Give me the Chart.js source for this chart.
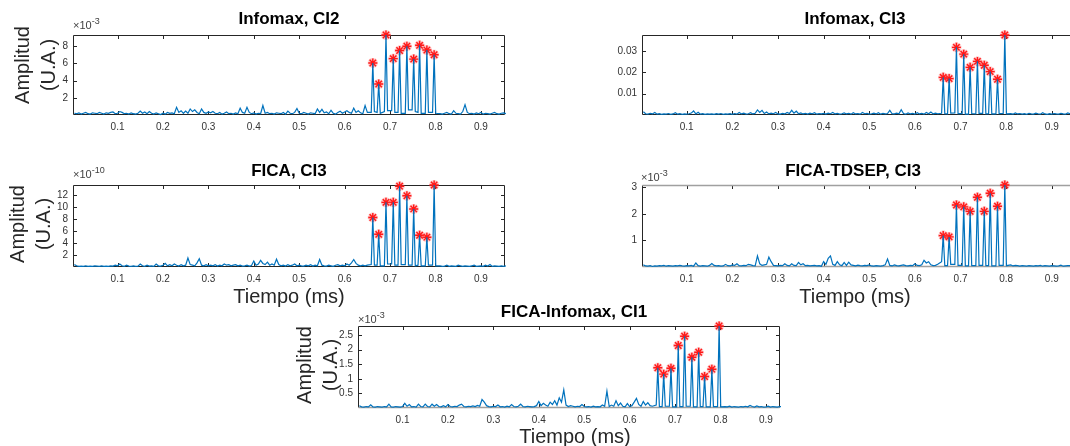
<!DOCTYPE html>
<html lang="es">
<head>
<meta charset="UTF-8" />
<title>Amplitud vs Tiempo</title>
<script src="https://cdn.jsdelivr.net/npm/chart.js@4"></script>
<style>
  html, body { margin: 0; padding: 0; background: #fff; }
  body { width: 1070px; height: 446px; position: relative; overflow: hidden; font-family: "Liberation Sans", Arial, sans-serif; }
  canvas { position: absolute; }
  .titulo { position: absolute; font-weight: bold; font-size: 17px; color: #000; line-height: 1; transform: translate(-50%, -50%); white-space: nowrap; }
  .ylab { position: absolute; font-size: 20px; line-height: 26px; color: #262626; text-align: center; transform: translate(-50%, -50%) rotate(-90deg); white-space: nowrap; }
  .xlab { position: absolute; font-size: 20px; line-height: 1; color: #262626; transform: translate(-50%, -50%); white-space: nowrap; }
  .expo { position: absolute; font-size: 11px; color: #404040; line-height: 1; transform: translateY(-50%); white-space: nowrap; }
  .expo sup { font-size: 9px; line-height: 0; }
</style>
</head>
<body>
  <canvas id="c1"></canvas>
  <canvas id="c2"></canvas>
  <canvas id="c3"></canvas>
  <canvas id="c4"></canvas>
  <canvas id="c5"></canvas>

  <div class="titulo" style="left:289px;top:18px">Infomax, CI2</div>
  <div class="titulo" style="left:855px;top:18px">Infomax, CI3</div>
  <div class="titulo" style="left:289px;top:170px">FICA, CI3</div>
  <div class="titulo" style="left:853px;top:170px">FICA-TDSEP, CI3</div>
  <div class="titulo" style="left:574px;top:311px">FICA-Infomax, CI1</div>

  <div class="expo" style="left:73px;top:25px">×10<sup>-3</sup></div>
  <div class="expo" style="left:73px;top:174px">×10<sup>-10</sup></div>
  <div class="expo" style="left:641px;top:177px">×10<sup>-3</sup></div>
  <div class="expo" style="left:358px;top:319px">×10<sup>-3</sup></div>

  <div class="ylab" style="left:35px;top:65px">Amplitud<br>(U.A.)</div>
  <div class="ylab" style="left:30px;top:224px">Amplitud<br>(U.A.)</div>
  <div class="ylab" style="left:317px;top:365px">Amplitud<br>(U.A.)</div>

  <div class="xlab" style="left:289px;top:296px">Tiempo (ms)</div>
  <div class="xlab" style="left:855px;top:296px">Tiempo (ms)</div>
  <div class="xlab" style="left:575px;top:436px">Tiempo (ms)</div>

<script>
// tiempos (ms)
const tRuido = [
  0.005,0.010,0.015,0.020,0.025,0.030,0.035,0.040,0.045,0.050,
  0.055,0.060,0.065,0.070,0.075,0.080,0.085,0.090,0.095,0.100,
  0.105,0.110,0.115,0.120,0.125,0.130,0.135,0.140,0.145,0.150,
  0.155,0.160,0.165,0.170,0.175,0.180,0.185,0.190,0.195,0.200,
  0.205,0.210,0.215,0.220,0.225,0.230,0.235,0.240,0.245,0.250,
  0.255,0.260,0.265,0.270,0.275,0.280,0.285,0.290,0.295,0.300,
  0.305,0.310,0.315,0.320,0.325,0.330,0.335,0.340,0.345,0.350,
  0.355,0.360,0.365,0.370,0.375,0.380,0.385,0.390,0.395,0.400,
  0.405,0.410,0.415,0.420,0.425,0.430,0.435,0.440,0.445,0.450,
  0.455,0.460,0.465,0.470,0.475,0.480,0.485,0.490,0.495,0.500,
  0.505,0.510,0.515,0.520,0.525,0.530,0.535,0.540,0.545,0.550,
  0.555,0.560,0.565,0.570,0.575,0.580,0.585,0.590,0.595,0.600,
  0.605,0.610,0.615,0.620,0.625,0.630,0.635,0.640,0.645,0.650
];
// pie de cada pico (antes, despues)
const tValles = [
  0.6585,0.6655, 0.6715,0.6785, 0.6875,0.6945, 0.7035,0.7105, 0.7175,0.7245,
  0.7335,0.7405, 0.7485,0.7555, 0.7615,0.7685, 0.7775,0.7845, 0.7935,0.8005
];
const tPicos  = [0.662,0.675,0.691,0.707,0.721,0.737,0.752,0.765,0.781,0.797];
const tCola = [
  0.810,0.815,0.820,0.825,0.830,0.835,0.840,0.845,0.850,0.855,
  0.860,0.865,0.870,0.875,0.880,0.885,0.890,0.895,0.900,0.905,
  0.910,0.915,0.920,0.925,0.930,0.935,0.940,0.945,0.950,0.955
];
const ticksX = [0.1,0.2,0.3,0.4,0.5,0.6,0.7,0.8,0.9];

// Infomax, CI2 (x10^-3)
const ruido1 = [
  0.2,0.15,0.25,0.1,0.2,0.3,0.15,0.1,0.25,0.2,
  0.15,0.3,0.2,0.1,0.25,0.2,0.3,0.35,0.15,0.2,
  0.4,0.3,0.15,0.2,0.1,0.25,0.15,0.1,0.2,0.45,
  0.2,0.35,0.15,0.4,0.2,0.1,0.25,0.15,0.05,0.2,
  0.1,0.3,0.2,0.25,0.15,0.9,0.3,0.5,0.2,0.45,
  0.2,0.7,0.4,0.6,0.3,0.15,0.7,0.3,0.2,0.35,
  0.25,0.4,0.2,0.15,0.3,0.1,0.2,0.35,0.15,0.2,
  0.1,0.25,0.15,0.8,0.3,0.2,0.9,0.3,0.15,0.25,
  0.1,0.2,0.15,1.1,0.2,0.3,0.15,0.2,0.1,0.25,
  0.2,0.15,0.3,0.1,0.45,0.2,0.15,0.3,0.75,0.2,
  0.15,0.3,0.2,0.1,0.25,0.2,0.15,0.7,0.3,0.65,
  0.25,0.35,0.15,0.55,0.2,0.1,0.3,0.45,0.2,0.35,
  0.5,0.3,0.2,0.8,0.3,0.5,0.25,0.15,1.1,0.3
];
const valles1 = [0.3,0.4, 0.3,0.2, 0.4,0.5, 0.5,0.3, 0.3,0.2, 0.2,0.6, 0.6,0.4, 0.3,0.2, 0.2,0.3, 0.3,0.2];
const picos1  = [6.05,3.6,9.3,6.55,7.5,8.0,6.5,8.1,7.55,7.0];
const cola1 = [
  0.15,0.1,0.2,0.3,0.15,0.1,0.5,0.2,0.15,0.1,
  0.4,1.2,0.3,0.15,0.2,0.1,0.25,0.15,0.3,0.1,
  0.2,0.15,0.1,0.2,0.3,0.15,0.1,0.2,0.25,0.15
];
const ticksY1 = [2,4,6,8];

// Infomax, CI3
const ruido2 = [
  0.0015,0.0006,0.0004,0.0008,0.0005,0.0012,0.0004,0.0006,0.0003,0.0005,
  0.0004,0.0007,0.0003,0.0005,0.0011,0.0004,0.0006,0.0003,0.0005,0.0004,
  0.0006,0.0009,0.0019,0.0005,0.0013,0.0004,0.0006,0.0003,0.0005,0.0004,
  0.0005,0.0003,0.0006,0.0004,0.0007,0.0003,0.0005,0.0004,0.0006,0.0003,
  0.0007,0.0004,0.0012,0.0005,0.0009,0.0004,0.0006,0.0011,0.0005,0.0008,
  0.0024,0.0012,0.0022,0.0007,0.0014,0.0005,0.0009,0.0006,0.0012,0.0005,
  0.0004,0.0008,0.0005,0.0012,0.0007,0.0022,0.0009,0.0018,0.0006,0.0010,
  0.0005,0.0008,0.0004,0.0009,0.0006,0.0011,0.0004,0.0007,0.0005,0.0008,
  0.0004,0.0009,0.0006,0.0012,0.0005,0.0008,0.0004,0.0006,0.0010,0.0005,
  0.0008,0.0004,0.0011,0.0005,0.0007,0.0004,0.0012,0.0006,0.0008,0.0004,
  0.0006,0.0009,0.0005,0.0011,0.0004,0.0008,0.0005,0.0007,0.0022,0.0006,
  0.0005,0.0009,0.0006,0.0025,0.0007,0.0004,0.0010,0.0005,0.0008,0.0004,
  0.0011,0.0005,0.0008,0.0004,0.0012,0.0006,0.0014,0.0005,0.0009,0.0006
];
const valles2 = [0.0008,0.0006, 0.0005,0.0009, 0.0010,0.0006, 0.0006,0.0004, 0.0004,0.0007,
                 0.0005,0.0008, 0.0008,0.0005, 0.0006,0.0005, 0.0005,0.0006, 0.0007,0.0005];
const picos2  = [0.0177,0.0171,0.0318,0.0286,0.0224,0.0252,0.0234,0.0204,0.0168,0.0376];
const cola2 = [
  0.0006,0.0004,0.0010,0.0005,0.0007,0.0004,0.0006,0.0003,0.0008,0.0005,
  0.0004,0.0009,0.0006,0.0004,0.0011,0.0005,0.0003,0.0006,0.0004,0.0007,
  0.0005,0.0004,0.0008,0.0005,0.0004,0.0010,0.0006,0.0004,0.0007,0.0005
];
const ticksY2 = [0.01,0.02,0.03];

// FICA, CI3 (x10^-10)
const ruido3 = [
  0.4,0.2,0.1,0.15,0.1,0.2,0.1,0.15,0.1,0.2,
  0.15,0.1,0.2,0.1,0.15,0.1,0.2,0.15,0.3,0.2,
  0.5,0.2,0.1,0.3,0.15,0.1,0.2,0.1,0.15,0.5,
  0.2,0.1,0.3,0.15,0.2,0.1,0.5,0.2,0.15,0.3,
  0.6,0.2,0.4,0.2,0.5,0.3,0.15,0.4,0.2,0.3,
  1.5,0.4,0.3,0.2,0.7,1.4,0.3,0.2,0.4,0.2,
  0.3,0.2,0.4,0.15,0.3,0.2,0.5,0.3,0.4,0.2,
  0.3,0.4,0.2,0.3,0.15,0.2,0.3,0.15,0.25,1.0,
  0.3,0.5,1.1,0.6,0.4,0.8,0.3,0.5,0.3,1.3,
  0.4,0.2,0.3,0.15,0.4,0.2,0.3,0.5,0.2,0.3,
  0.2,0.15,0.3,0.2,0.4,0.15,0.3,0.2,1.25,0.3,
  0.2,0.15,0.3,0.2,0.1,0.3,0.4,0.2,0.3,0.2,
  0.5,0.3,0.7,1.25,0.6,0.3,0.2,0.3,0.2,0.3
];
const valles3 = [0.4,0.3, 0.3,0.2, 0.2,0.5, 0.5,0.3, 0.3,0.4, 0.4,0.3, 0.3,0.2, 0.3,0.2, 0.2,0.3, 0.3,0.2];
const picos3  = [8.27,5.46,10.8,10.8,13.5,11.9,9.7,5.3,4.98,13.7];
const cola3 = [
  0.2,0.1,0.15,0.3,0.1,0.2,0.15,0.1,0.3,0.2,
  0.1,0.2,0.15,0.1,0.2,0.3,0.1,0.15,0.2,0.1,
  0.3,0.15,0.4,0.1,0.2,0.15,0.1,0.2,0.1,0.2
];
const ticksY3 = [2,4,6,8,10,12];

// FICA-TDSEP, CI3 (x10^-3)
const ruido4 = [
  0.08,0.04,0.03,0.05,0.02,0.04,0.03,0.05,0.04,0.06,
  0.03,0.05,0.04,0.03,0.05,0.04,0.06,0.04,0.03,0.05,
  0.04,0.06,0.03,0.15,0.05,0.03,0.05,0.04,0.03,0.06,
  0.13,0.06,0.04,0.05,0.03,0.04,0.1,0.05,0.04,0.08,
  0.06,0.12,0.05,0.04,0.06,0.05,0.1,0.08,0.05,0.04,
  0.42,0.12,0.06,0.08,0.1,0.37,0.2,0.06,0.05,0.04,
  0.06,0.05,0.12,0.06,0.04,0.12,0.06,0.05,0.17,0.08,
  0.12,0.05,0.06,0.04,0.05,0.06,0.04,0.05,0.03,0.2,
  0.1,0.33,0.42,0.1,0.06,0.2,0.08,0.05,0.17,0.06,
  0.18,0.08,0.06,0.04,0.07,0.05,0.04,0.06,0.05,0.08,
  0.04,0.03,0.05,0.04,0.03,0.05,0.08,0.3,0.06,0.04,
  0.08,0.05,0.04,0.06,0.08,0.05,0.04,0.06,0.05,0.12,
  0.06,0.05,0.08,0.25,0.15,0.2,0.08,0.05,0.06,0.1
];
const valles4 = [0.2,0.05, 0.05,0.1, 0.1,0.06, 0.06,0.04, 0.04,0.05, 0.05,0.06, 0.06,0.05, 0.05,0.04, 0.04,0.06, 0.06,0.05];
const picos4  = [1.18,1.13,2.33,2.26,2.09,2.62,2.09,2.77,2.28,3.08];
const cola4 = [
  0.08,0.04,0.06,0.05,0.03,0.05,0.04,0.03,0.05,0.04,
  0.03,0.05,0.04,0.06,0.03,0.05,0.04,0.03,0.05,0.04,
  0.03,0.04,0.07,0.03,0.04,0.05,0.05,0.03,0.04,0.05
];
const ticksY4 = [1,2,3];

// FICA-Infomax, CI1 (x10^-3)
const ruido5 = [
  0.08,0.04,0.03,0.05,0.04,0.11,0.04,0.03,0.05,0.04,
  0.03,0.05,0.04,0.13,0.04,0.03,0.05,0.04,0.03,0.05,
  0.16,0.06,0.12,0.04,0.05,0.03,0.13,0.05,0.04,0.13,
  0.05,0.04,0.13,0.06,0.12,0.05,0.04,0.08,0.04,0.12,
  0.05,0.04,0.06,0.05,0.1,0.13,0.05,0.04,0.06,0.05,
  0.07,0.05,0.09,0.06,0.29,0.2,0.08,0.05,0.04,0.06,
  0.05,0.1,0.04,0.05,0.03,0.06,0.04,0.12,0.05,0.04,
  0.06,0.13,0.05,0.04,0.06,0.05,0.04,0.05,0.08,0.22,
  0.08,0.16,0.1,0.06,0.2,0.12,0.25,0.1,0.35,0.2,
  0.62,0.1,0.05,0.08,0.06,0.04,0.06,0.05,0.12,0.05,
  0.04,0.05,0.03,0.06,0.04,0.05,0.04,0.1,0.06,0.58,
  0.05,0.1,0.06,0.25,0.08,0.17,0.06,0.04,0.15,0.05,
  0.08,0.2,0.33,0.12,0.06,0.22,0.1,0.18,0.08,0.06
];
const valles5 = [0.1,0.05, 0.05,0.06, 0.06,0.04, 0.04,0.05, 0.05,0.06, 0.06,0.04, 0.04,0.05, 0.05,0.04, 0.04,0.05, 0.05,0.04];
const picos5  = [1.38,1.16,1.36,2.14,2.46,1.74,1.91,1.08,1.33,2.81];
const cola5 = [
  0.05,0.04,0.06,0.03,0.05,0.04,0.03,0.05,0.04,0.06,
  0.04,0.09,0.05,0.03,0.07,0.04,0.05,0.03,0.04,0.06,
  0.03,0.05,0.04,0.03,0.05,0.04,0.03,0.05,0.04,0.03
];
const ticksY5 = [0.5,1,1.5,2,2.5];

function serie(ruido, valles, picos, cola) {
  const pts = tRuido.map((t, i) => ({ x: t, y: ruido[i] }));
  tPicos.forEach((t, i) => {
    pts.push({ x: tValles[2 * i], y: valles[2 * i] });
    pts.push({ x: t, y: picos[i] });
    pts.push({ x: tValles[2 * i + 1], y: valles[2 * i + 1] });
  });
  tCola.forEach((t, i) => pts.push({ x: t, y: cola[i] }));
  return pts;
}
function marcas(picos) {
  return tPicos.map((t, i) => ({ x: t, y: picos[i] }));
}

// caja con marcas hacia dentro (estilo matlab)
const cajaPlugin = {
  id: 'caja',
  beforeDatasetsDraw(chart, args, opts) {
    const { ctx, chartArea: a, scales: { x, y } } = chart;
    const L = 4;
    ctx.save();
    ctx.strokeStyle = '#262626';
    ctx.lineWidth = 1;
    ctx.beginPath();
    x.ticks.forEach(t => {
      const px = Math.round(x.getPixelForValue(t.value)) + 0.5;
      ctx.moveTo(px, a.bottom); ctx.lineTo(px, a.bottom - L);
      ctx.moveTo(px, a.top); ctx.lineTo(px, a.top + L);
    });
    y.ticks.forEach(t => {
      const py = Math.round(y.getPixelForValue(t.value)) + 0.5;
      ctx.moveTo(a.left, py); ctx.lineTo(a.left + L, py);
      ctx.moveTo(a.right, py); ctx.lineTo(a.right - L, py);
    });
    ctx.stroke();
    const lado = (c, w, x0, y0, x1, y1) => {
      ctx.strokeStyle = c; ctx.lineWidth = w;
      ctx.beginPath(); ctx.moveTo(x0, y0); ctx.lineTo(x1, y1); ctx.stroke();
    };
    const l = Math.round(a.left) + 0.5, r = Math.round(a.right) - 0.5;
    const t = Math.round(a.top) + 0.5, b = Math.round(a.bottom) - 0.5;
    lado('#262626', 1, l, t, l, b);
    lado('#262626', 1, r, t, r, b);
    lado(opts.sup || '#262626', opts.supW || 1, l, t, r, t);
    lado(opts.inf || '#262626', opts.infW || 1, l, b, r, b);
    ctx.restore();
  }
};

Chart.defaults.font.family = '"Liberation Sans", Arial, sans-serif';

const Y_W = 40, X_H = 24, PAD_T = 8, PAD_R = 8;

function dibujar(id, area, xMax, yMax, ticksY, datos, picos, caja) {
  const cv = document.getElementById(id);
  cv.width = Y_W + area.w + PAD_R;
  cv.height = PAD_T + area.h + X_H;
  cv.style.left = (area.l - Y_W) + 'px';
  cv.style.top = (area.t - PAD_T) + 'px';

  new Chart(cv, {
    type: 'line',
    data: {
      datasets: [
        { data: datos, borderColor: '#0072BD', borderWidth: 1.2, pointRadius: 0, tension: 0, fill: false, clip: 1 },
        { type: 'scatter', data: marcas(picos), pointStyle: 'star', pointRadius: 5,
          borderColor: 'rgba(255,70,70,0.35)', pointBorderWidth: 3, clip: false },
        { type: 'scatter', data: marcas(picos), pointStyle: 'star', pointRadius: 4.5,
          borderColor: '#ff0000', pointBorderWidth: 1.4, clip: false }
      ]
    },
    options: {
      responsive: false,
      animation: false,
      devicePixelRatio: 1,
      layout: { padding: { top: PAD_T, right: PAD_R, left: 0, bottom: 0 } },
      plugins: { legend: { display: false }, tooltip: { enabled: false }, caja: caja },
      scales: {
        x: {
          type: 'linear', min: 0.002, max: xMax,
          grid: { display: false, drawTicks: false }, border: { display: false },
          afterBuildTicks: s => { s.ticks = ticksX.map(v => ({ value: v })); },
          afterFit: s => { s.height = X_H; },
          ticks: { padding: 6, color: '#333', font: { size: 10 }, maxRotation: 0, autoSkip: false, callback: v => String(v) }
        },
        y: {
          min: 0, max: yMax,
          grid: { display: false, drawTicks: false }, border: { display: false },
          afterBuildTicks: s => { s.ticks = ticksY.map(v => ({ value: v })); },
          afterFit: s => { s.width = Y_W; },
          ticks: { padding: 5, color: '#333', font: { size: 10 }, autoSkip: false, callback: v => String(v) }
        }
      }
    },
    plugins: [cajaPlugin]
  });
}

dibujar('c1', { l: 73, t: 32, w: 432, h: 83 }, 0.953, 9.3, ticksY1, serie(ruido1, valles1, picos1, cola1), picos1, {});
dibujar('c2', { l: 642, t: 32, w: 434, h: 83 }, 0.953, 0.0376, ticksY2, serie(ruido2, valles2, picos2, cola2), picos2, {});
dibujar('c3', { l: 73, t: 182, w: 432, h: 85 }, 0.953, 13.7, ticksY3, serie(ruido3, valles3, picos3, cola3), picos3, {});
dibujar('c4', { l: 642, t: 182, w: 434, h: 85 }, 0.953, 3.08, ticksY4, serie(ruido4, valles4, picos4, cola4), picos4,
  { sup: '#a0a0a0', supW: 1.5, inf: '#a0a0a0', infW: 1.5 });
dibujar('c5', { l: 358, t: 323, w: 422, h: 85 }, 0.931, 2.81, ticksY5, serie(ruido5, valles5, picos5, cola5), picos5,
  { inf: '#a0a0a0', infW: 1.5 });
</script>
</body>
</html>
